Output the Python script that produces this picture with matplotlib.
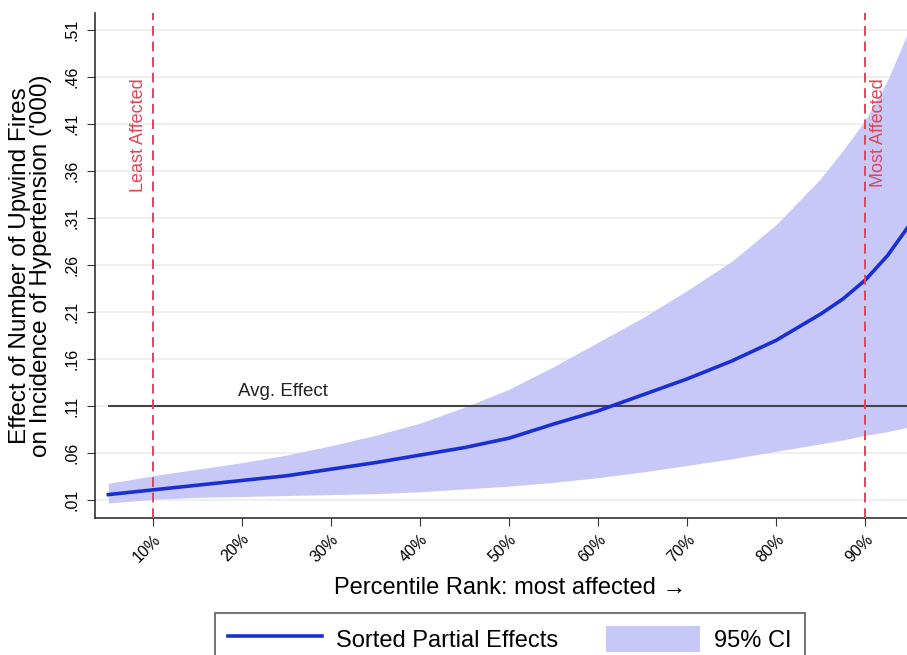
import numpy as np
import matplotlib
matplotlib.use('Agg')
from matplotlib import pyplot as plt

plt.rcParams['font.family'] = ['Liberation Sans', 'DejaVu Sans']

# percentile rank (x) and sorted partial effects with 95% CI
pct = [5, 10, 15, 20, 25, 30, 35, 40, 45, 50, 55, 60, 65, 70, 75, 80, 85, 87.5, 90, 92.5, 95]
effect = [0.016, 0.021, 0.026, 0.031, 0.036, 0.043, 0.050, 0.058, 0.066, 0.076,
          0.091, 0.105, 0.122, 0.139, 0.158, 0.180, 0.208, 0.224, 0.244, 0.270, 0.303]
ci_upper = [0.028, 0.036, 0.043, 0.050, 0.058, 0.068, 0.079, 0.092, 0.109, 0.128,
            0.152, 0.178, 0.204, 0.233, 0.264, 0.303, 0.352, 0.382, 0.414, 0.456, 0.512]
ci_lower = [0.007, 0.011, 0.013, 0.014, 0.015, 0.016, 0.017, 0.019, 0.022, 0.025,
            0.029, 0.034, 0.040, 0.047, 0.054, 0.062, 0.070, 0.074, 0.079, 0.083, 0.088]
avg_effect = 0.11
y_ticks = [0.01, 0.06, 0.11, 0.16, 0.21, 0.26, 0.31, 0.36, 0.41, 0.46, 0.51]
x_ticks = [10, 20, 30, 40, 50, 60, 70, 80, 90]

fig = plt.figure(figsize=(9.07, 6.55), dpi=100)
ax = fig.add_axes([0.1047, 0.209, 0.8953, 0.771])

ax.fill_between(pct, ci_lower, ci_upper, color='#c8c8f8', lw=0, label='95% CI', zorder=1)
ax.plot(pct, effect, color='#1a2fd0', lw=2.6, label='Sorted Partial Effects', zorder=3)

# average effect
ax.hlines(avg_effect, pct[0], 100, color='#444444', lw=1.5, zorder=2)
ax.text(24.6, avg_effect + 0.007, 'Avg. Effect', fontsize=13.5, color='#222222', ha='center', va='bottom')

# least / most affected markers
for xv in (10, 90):
    ax.axvline(xv, color='#e04555', lw=1.4, ls=(0, (5, 3)), zorder=4)
ax.text(9.3, 0.459, 'Least Affected', rotation=90, color='#e04555', fontsize=13,
        ha='right', va='top')
ax.text(90.5, 0.459, 'Most Affected', rotation=90, color='#e04555', fontsize=13,
        ha='left', va='top')

ax.set_xlim(3.5, 94.7)
ax.set_ylim(-0.009, 0.528)
ax.set_yticks(y_ticks)
ax.set_yticklabels(['.%02d' % round(v * 100) for v in y_ticks], rotation=90, va='center', fontsize=11.5)
ax.set_xticks(x_ticks)
ax.set_xticklabels(['%d%%' % v for v in x_ticks], rotation=45, ha='right', fontsize=11.5,
                   rotation_mode='anchor')
ax.tick_params(axis='both', direction='out', length=6, color='#333333')
ax.tick_params(axis='y', pad=5)
ax.grid(axis='y', color='#ececec', lw=1.2, zorder=0)
ax.set_axisbelow(True)

for s in ('top', 'right'):
    ax.spines[s].set_visible(False)
for s in ('left', 'bottom'):
    ax.spines[s].set_color('#333333')
    ax.spines[s].set_linewidth(1.2)

ax.set_ylabel("Effect of Number of Upwind Fires\non Incidence of Hypertension ('000)",
              fontsize=17.5, linespacing=0.95)
ax.yaxis.set_label_coords(-0.053, 0.5)
ax.set_xlabel('Percentile Rank: most affected \u2192', fontsize=17)
ax.xaxis.set_label_coords(0.511, -0.117)

h, l = ax.get_legend_handles_labels()
leg = fig.legend(h[::-1], l[::-1], loc='upper center', bbox_to_anchor=(0.562, 0.064),
                 ncol=2, fontsize=17, frameon=True, fancybox=False, edgecolor='#333333',
                 handlelength=4.0, columnspacing=2.0, handletextpad=0.6, borderpad=0.55,
                 handleheight=1.3, borderaxespad=0)
leg.get_frame().set_linewidth(1.2)

fig.savefig('out.png', dpi=100)
